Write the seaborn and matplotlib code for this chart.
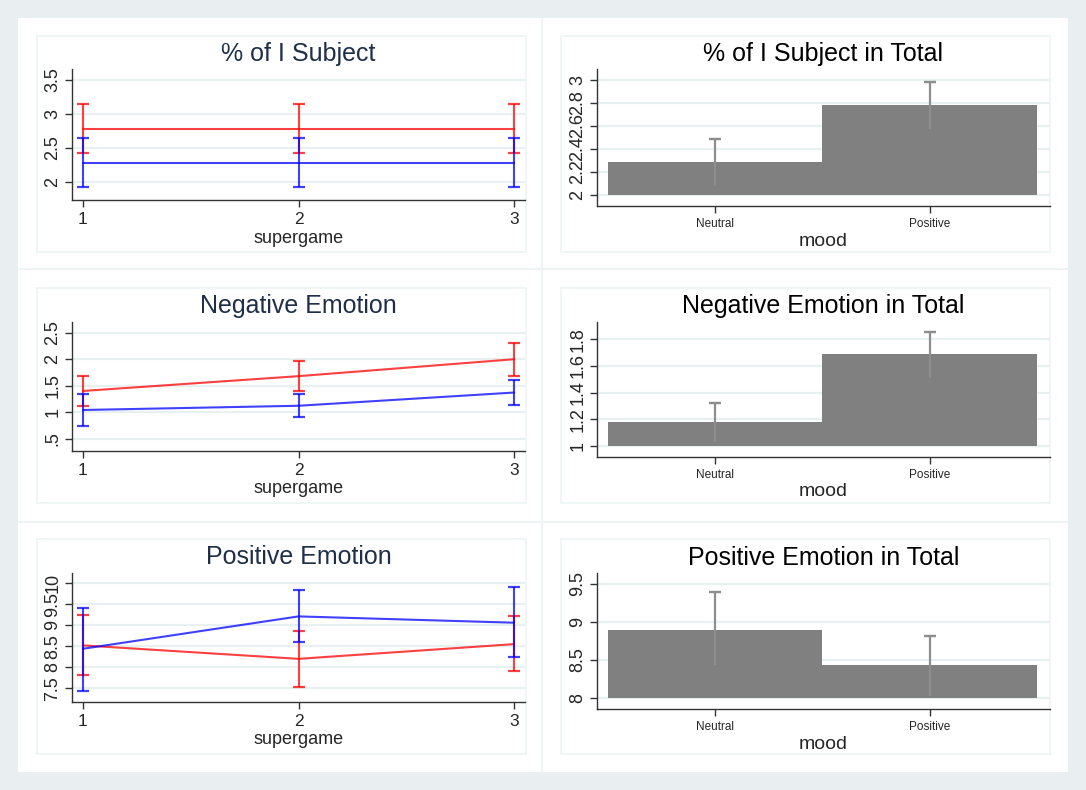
import matplotlib
matplotlib.use("Agg")
import matplotlib.pyplot as plt
from matplotlib.patches import Rectangle
from matplotlib.lines import Line2D
import seaborn as sns
import numpy as np

# ---------------- data ----------------
supergame = [1, 2, 3]

isubj_red_mean = [2.78, 2.78, 2.78]
isubj_red_lo = [2.43, 2.43, 2.43]
isubj_red_hi = [3.14, 3.14, 3.14]
isubj_blue_mean = [2.28, 2.28, 2.28]
isubj_blue_lo = [1.93, 1.93, 1.93]
isubj_blue_hi = [2.64, 2.64, 2.64]

neg_red_mean = [1.40, 1.68, 2.00]
neg_red_lo = [1.11, 1.39, 1.685]
neg_red_hi = [1.68, 1.97, 2.30]
neg_blue_mean = [1.04, 1.12, 1.37]
neg_blue_lo = [0.74, 0.90, 1.13]
neg_blue_hi = [1.35, 1.35, 1.60]

pos_red_mean = [8.52, 8.20, 8.55]
pos_red_lo = [7.81, 7.54, 7.90]
pos_red_hi = [9.25, 8.87, 9.21]
pos_blue_mean = [8.44, 9.21, 9.06]
pos_blue_lo = [7.44, 8.59, 8.24]
pos_blue_hi = [9.40, 9.83, 9.90]

mood = ["Neutral", "Positive"]
isubj_total = [2.28, 2.78]
isubj_total_lo = [2.07, 2.57]
isubj_total_hi = [2.48, 2.98]
neg_total = [1.18, 1.69]
neg_total_lo = [1.03, 1.51]
neg_total_hi = [1.325, 1.85]
pos_total = [8.90, 8.43]
pos_total_lo = [8.43, 8.03]
pos_total_hi = [9.39, 8.81]

isubj_ticks = [2, 2.5, 3, 3.5]
isubj_ticklabels = ["2", "2.5", "3", "3.5"]
neg_ticks = [0.5, 1, 1.5, 2, 2.5]
neg_ticklabels = [".5", "1", "1.5", "2", "2.5"]
pos_ticks = [7.5, 8, 8.5, 9, 9.5, 10]
pos_ticklabels = ["7.5", "8", "8.5", "9", "9.5", "10"]
isubj_total_ticks = [2, 2.2, 2.4, 2.6, 2.8, 3]
isubj_total_ticklabels = ["2", "2.2", "2.4", "2.6", "2.8", "3"]
neg_total_ticks = [1, 1.2, 1.4, 1.6, 1.8]
neg_total_ticklabels = ["1", "1.2", "1.4", "1.6", "1.8"]
pos_total_ticks = [8, 8.5, 9, 9.5]
pos_total_ticklabels = ["8", "8.5", "9", "9.5"]

# ---------------- style ----------------
sns.set_style("white")
plt.rcParams['font.family'] = ['Liberation Sans', 'DejaVu Sans']

W, H = 1086, 790
fig = plt.figure(figsize=(W / 100, H / 100), dpi=100)
fig.patch.set_facecolor('#e9eff1')

def fr(x0, y0, x1, y1):
    return [x0 / W, 1 - y1 / H, (x1 - x0) / W, (y1 - y0) / H]

# white sheet
fig.add_artist(Rectangle((18 / W, 1 - 772 / H), (1068 - 18) / W, (772 - 18) / H,
                         transform=fig.transFigure, facecolor='white', edgecolor='none', zorder=-3))
# separators
sep_col = '#eef3f4'
fig.add_artist(Line2D([541.7 / W, 541.7 / W], [1 - 18 / H, 1 - 772 / H], transform=fig.transFigure,
                      color=sep_col, lw=1.5, zorder=-2))
for yy in [269.3, 521.7]:
    fig.add_artist(Line2D([18 / W, 1068 / W], [1 - yy / H, 1 - yy / H], transform=fig.transFigure,
                          color=sep_col, lw=1.5, zorder=-2))
# inner panel rects
for (x0, x1) in [(36.7, 526), (561, 1050)]:
    for (y0, y1) in [(36, 252), (288, 503), (539, 754)]:
        fig.add_artist(Rectangle((x0 / W, 1 - y1 / H), (x1 - x0) / W, (y1 - y0) / H,
                                 transform=fig.transFigure, facecolor='white',
                                 edgecolor='#eef3f4', lw=1.2, zorder=-1))

grid_col = '#e8f0f2'
navy = '#1f2f4a'

def style_axes(ax, ticks, ticklabels, ylim, title, title_color, xlabel, xlabsize):
    ax.set_facecolor('none')
    ax.set_zorder(2)
    ax.set_ylim(*ylim)
    ax.set_yticks(ticks)
    ax.set_yticklabels(ticklabels, rotation=90, va='center', fontsize=13)
    for t in ticks:
        ax.axhline(t, color=grid_col, lw=1.6, zorder=0)
    for s in ['top', 'right']:
        ax.spines[s].set_visible(False)
    for s in ['left', 'bottom']:
        ax.spines[s].set_color('#333333')
        ax.spines[s].set_linewidth(1.0)
    ax.tick_params(axis='both', direction='out', length=5, width=1, color='#333333', left=True, bottom=True)
    ax.tick_params(axis='y', pad=2.5)
    ax.set_title(title, fontsize=18, color=title_color, pad=6)
    ax.set_xlabel(xlabel, fontsize=xlabsize, labelpad=2)
    ax.set_ylabel('')

def line_panel(ax, rm, rlo, rhi, bm, blo, bhi, ticks, ticklabels, ylim, title):
    for m, lo, hi, col in [(rm, rlo, rhi, '#ff0000'), (bm, blo, bhi, '#0000ff')]:
        sns.lineplot(x=supergame, y=m, color=col, lw=1.5, alpha=0.75, ax=ax, zorder=3)
        m_ = np.array(m); lo_ = np.array(lo); hi_ = np.array(hi)
        ax.errorbar(supergame, m_, yerr=[m_ - lo_, hi_ - m_], fmt='none', ecolor=col,
                    elinewidth=1.5, capsize=4, capthick=1.6, alpha=0.75, zorder=3)
    ax.set_xlim(0.949, 3.051)
    ax.set_xticks(supergame)
    ax.set_xticklabels([str(s) for s in supergame], fontsize=12.5)
    style_axes(ax, ticks, ticklabels, ylim, title, navy, 'supergame', 13)

def bar_panel(ax, vals, lo, hi, base, ticks, ticklabels, ylim, title):
    sns.barplot(x=mood, y=vals, color='#808080', width=1.0, saturation=1, ax=ax, zorder=2,
                edgecolor='none', errorbar=None)
    for p, v in zip(ax.patches, vals):
        p.set_y(base)
        p.set_height(v - base)
    xs = np.arange(len(mood))
    ax.vlines(xs, lo, hi, color='#8e8e8e', lw=1.6, zorder=3)
    ax.errorbar(xs, hi, yerr=[[0] * len(xs), [0] * len(xs)], fmt='none', ecolor='#8e8e8e',
                capsize=4, capthick=1.6, elinewidth=0, zorder=3)
    ax.set_xlim(-0.551, 1.56)
    ax.set_xticks(xs)
    ax.set_xticklabels(mood, fontsize=8.5)
    style_axes(ax, ticks, ticklabels, ylim, title, 'black', 'mood', 14)

ax1 = fig.add_axes(fr(72, 69, 525, 200))
line_panel(ax1, isubj_red_mean, isubj_red_lo, isubj_red_hi, isubj_blue_mean, isubj_blue_lo, isubj_blue_hi,
           isubj_ticks, isubj_ticklabels, (1.735, 3.66), '% of I Subject')
ax3 = fig.add_axes(fr(72, 321.7, 525, 450.7))
line_panel(ax3, neg_red_mean, neg_red_lo, neg_red_hi, neg_blue_mean, neg_blue_lo, neg_blue_hi,
           neg_ticks, neg_ticklabels, (0.27, 2.71), 'Negative Emotion')
ax5 = fig.add_axes(fr(72, 572.7, 525, 701.7))
line_panel(ax5, pos_red_mean, pos_red_lo, pos_red_hi, pos_blue_mean, pos_blue_lo, pos_blue_hi,
           pos_ticks, pos_ticklabels, (7.18, 10.25), 'Positive Emotion')

ax2 = fig.add_axes(fr(596.7, 69.3, 1050, 206))
bar_panel(ax2, isubj_total, isubj_total_lo, isubj_total_hi, 2.0,
          isubj_total_ticks, isubj_total_ticklabels, (1.90, 3.09), '% of I Subject in Total')
ax4 = fig.add_axes(fr(596.7, 321.7, 1050, 456.7))
bar_panel(ax4, neg_total, neg_total_lo, neg_total_hi, 1.0,
          neg_total_ticks, neg_total_ticklabels, (0.92, 1.93), 'Negative Emotion in Total')
ax6 = fig.add_axes(fr(596.7, 573.3, 1050, 709.3))
bar_panel(ax6, pos_total, pos_total_lo, pos_total_hi, 8.0,
          pos_total_ticks, pos_total_ticklabels, (7.85, 9.64), 'Positive Emotion in Total')

fig.savefig('out.png', dpi=100, facecolor=fig.get_facecolor())
